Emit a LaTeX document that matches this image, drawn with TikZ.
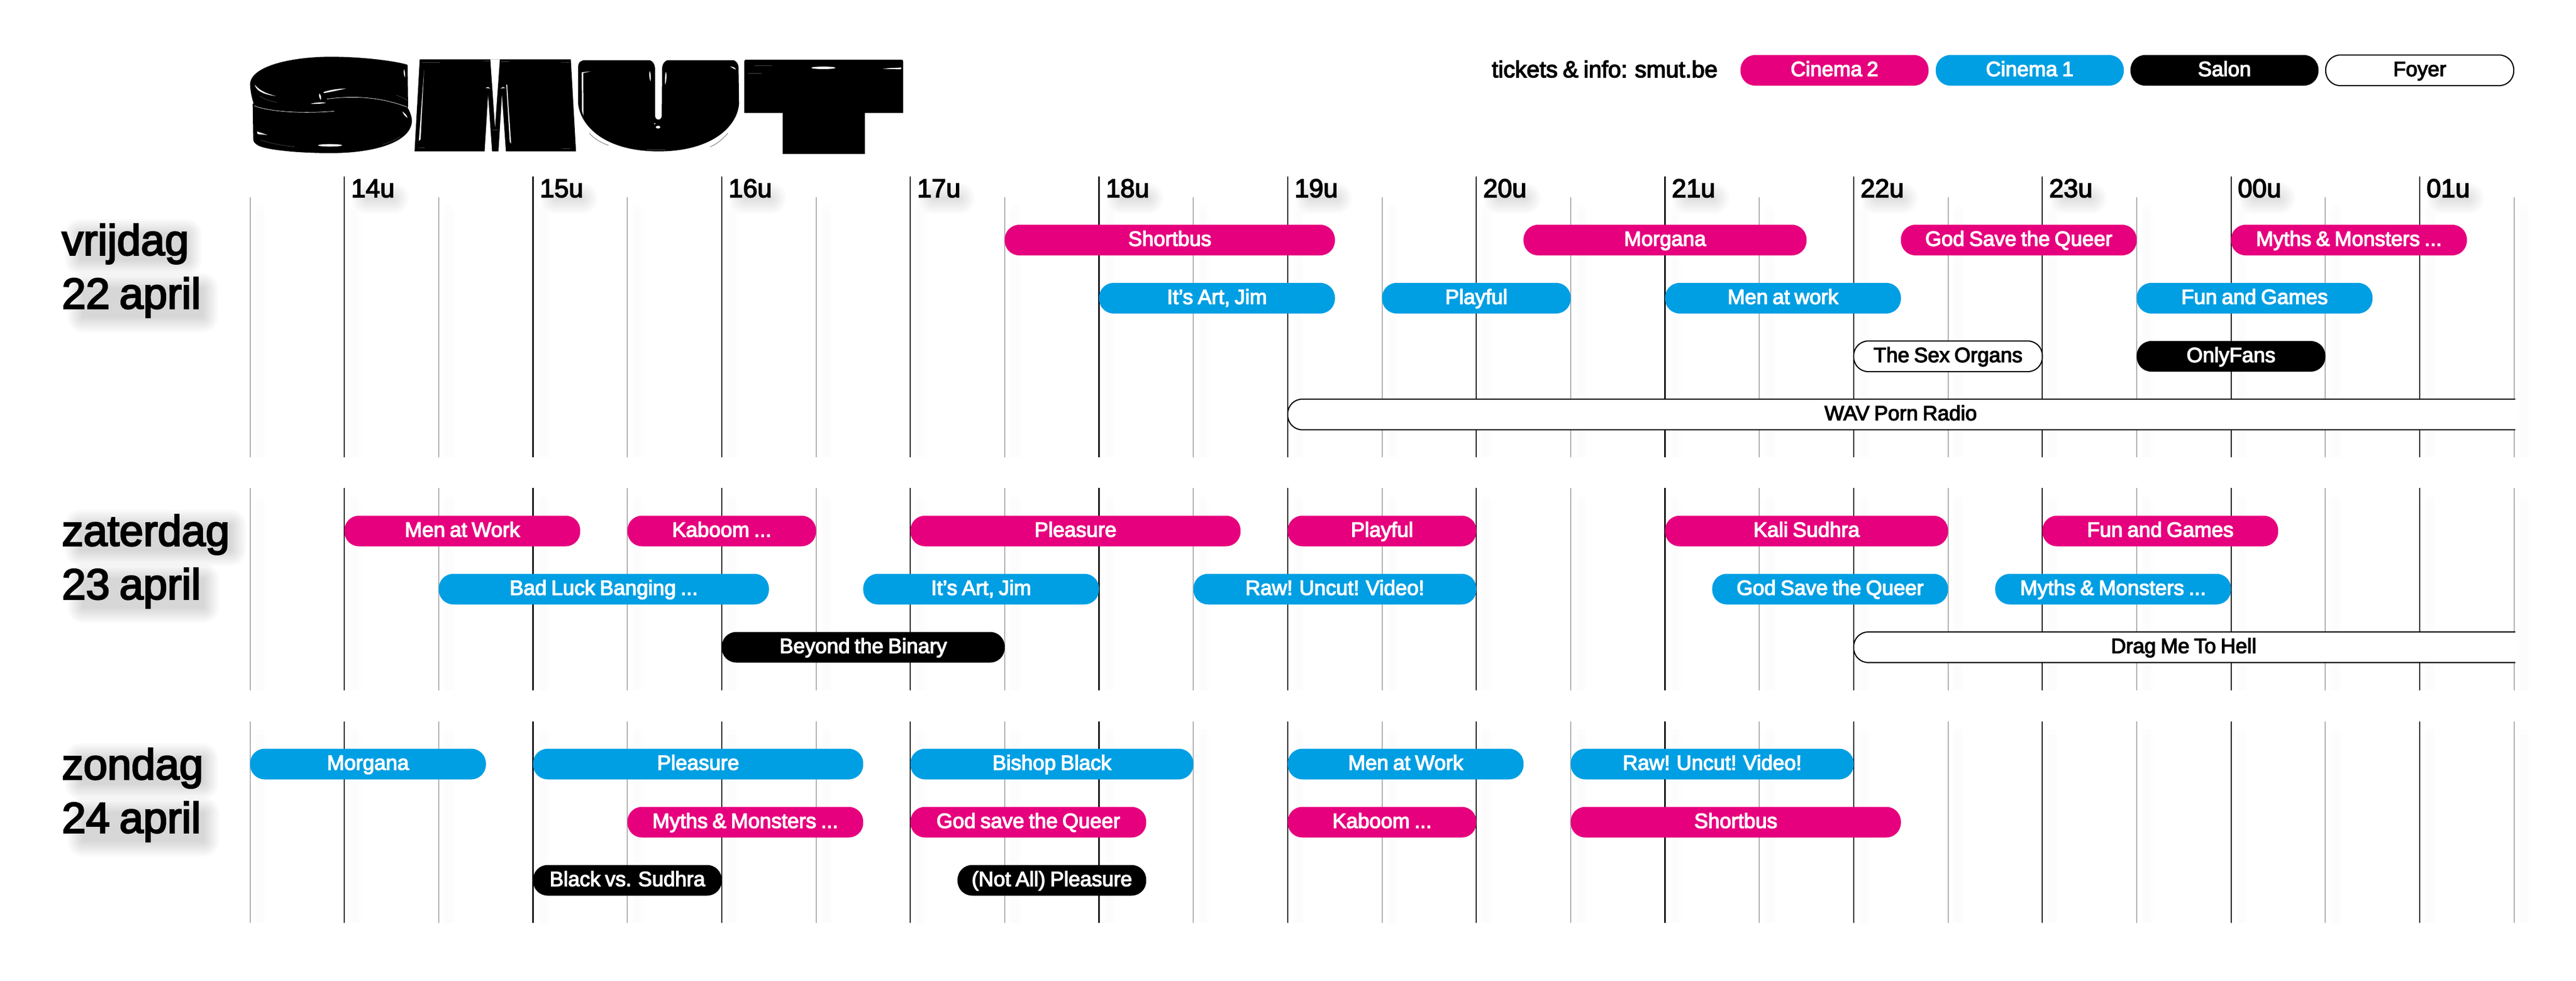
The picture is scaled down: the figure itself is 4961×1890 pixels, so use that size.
\documentclass[tikz,border=0pt]{standalone}
\usepackage{fontspec}
\usepackage{graphicx}
\setmainfont{Liberation Sans}
\newfontfamily\medfont{Liberation Sans}[FakeBold=3.5,WordSpace=0.8]
\newfontfamily\logofont{Liberation Sans Bold}
\definecolor{cmag}{HTML}{E6007E}
\definecolor{cblue}{HTML}{009FE3}
\definecolor{cgrid}{HTML}{ABABAB}
\tikzset{
  pillbase/.style={inner sep=0pt,outer sep=0pt,minimum height=59pt,rounded corners=28pt,line width=2.2pt,
    font=\medfont\fontsize{40}{40}\selectfont,text height=29pt,text depth=6.5pt},
  mag/.style={pillbase,fill=cmag,text=white},
  blu/.style={pillbase,fill=cblue,text=white},
  blk/.style={pillbase,fill=black,text=white},
  foy/.style={pillbase,fill=white,draw=black,text=black},
  daylab/.style={anchor=north west,inner sep=0pt,align=left,font=\medfont\fontsize{83}{103}\selectfont},
  hourlab/.style={anchor=base west,inner sep=0pt,font=\medfont\fontsize{50}{50}\selectfont},
  gl/.style={white,line width=.7pt,line cap=round},
  gr/.style={black!70!white,line width=.7pt,line cap=round},
}
\newcommand\hx[1]{481.6+(#1)*181.667}
\newcommand\pill[6]{\node[#2,minimum width={((#4)-(#3))*181.667pt}] (#1) at ({481.6+((#3)+(#4))/2*181.667},{#5+29.5}) {#6};}
\newcommand\lpill[5]{\node[#2,minimum width={(#4)-(#3)*1pt}] (#1) at ({((#3)+(#4))/2},135.5) {#5};}
\newcommand\openpill[4]{%
  \draw[fill=white,line width=2.2pt,rounded corners=28pt] (4844,#3) -- ({\hx{#2}},#3) -- ({\hx{#2}},#3+59) -- (4844,#3+59);
  \node[pillbase,text=black,minimum width=400pt] (#1) at ({(\hx{#2}+4841)/2},#3+29.5) {#4};}
\newcommand\softblob[5]{%
  \foreach \e in {-8,-4,...,20}{\pgfmathsetmacro\rr{max(\e+10,1)}%
    \fill[black,opacity=#5,rounded corners=\rr pt] ({#1-\e},{#2-\e}) rectangle ({#3+\e},{#4+\e});}}
\begin{document}
\begin{tikzpicture}[x=1pt,y=-1pt]
\useasboundingbox (0,0) rectangle (4961,1890);
\fill[white] (0,0) rectangle (4961,1890);

% grid
\foreach \tt in {0,...,24}{
  \pgfmathsetmacro\xx{481.6+\tt*181.667}
  \foreach \ya/\yb in {380/881,940/1330,1390/1778}{
    \fill[black,opacity=.007] (\xx+12,\ya+15) rectangle (\xx+27,\yb);
    \fill[black,opacity=.005] (\xx+6,\ya+25) rectangle (\xx+33,\yb);
  }
  \pgfmathparse{int(mod(\tt,2))}
  \ifnum\pgfmathresult=1
    \draw[black,line width=2.3pt] (\xx,340) -- (\xx,881);
    \draw[black,line width=2.3pt] (\xx,940) -- (\xx,1330);
    \draw[black,line width=2.3pt] (\xx,1390) -- (\xx,1778);
  \else
    \draw[cgrid,line width=1.9pt] (\xx,380) -- (\xx,881);
    \draw[cgrid,line width=1.9pt] (\xx,940) -- (\xx,1330);
    \draw[cgrid,line width=1.9pt] (\xx,1390) -- (\xx,1778);
  \fi
}

% hour labels
\foreach \tt/\lab in {1/14u,3/15u,5/16u,7/17u,9/18u,11/19u,13/20u,15/21u,17/22u,19/23u,21/00u,23/01u}{
  \pgfmathsetmacro\xx{481.6+\tt*181.667}
  \softblob{\xx+34}{372}{\xx+104}{392}{.016}
  \node[hourlab] (h\tt) at (\xx+13,380) {\lab};
}

% day labels
\softblob{145}{442}{368}{510}{.02}
\softblob{150}{546}{400}{620}{.02}
\softblob{145}{1002}{454}{1070}{.02}
\softblob{150}{1106}{402}{1180}{.02}
\softblob{145}{1452}{400}{1520}{.02}
\softblob{150}{1556}{402}{1630}{.02}
\node[daylab] (d1) at (119,431) {vrijdag\\22 april};
\node[daylab] (d2) at (119,991) {zaterdag\\23 april};
\node[daylab] (d3) at (119,1441) {zondag\\24 april};

% legend
\node[anchor=base east,inner sep=0pt,font=\medfont\fontsize{44.8}{45}\selectfont] (tick) at (3308,149) {tickets \& info: smut.be};
\lpill{l1}{mag}{3352}{3714}{Cinema 2}
\lpill{l2}{blu}{3728}{4090}{Cinema 1}
\lpill{l3}{blk}{4103}{4465}{Salon}
\lpill{l4}{foy}{4479}{4841}{Foyer}

% friday
\pill{f1}{mag}{8}{11.5}{433}{Shortbus}
\pill{f2}{mag}{13.5}{16.5}{433}{Morgana}
\pill{f3}{mag}{17.5}{20}{433}{God Save the Queer}
\pill{f4}{mag}{21}{23.5}{433}{Myths \& Monsters ...}
\pill{f5}{blu}{9}{11.5}{545}{It’s Art, Jim}
\pill{f6}{blu}{12}{14}{545}{Playful}
\pill{f7}{blu}{15}{17.5}{545}{Men at work}
\pill{f8}{blu}{20}{22.5}{545}{Fun and Games}
\pill{f9}{foy}{17}{19}{657}{The Sex Organs}
\pill{f10}{blk}{20}{22}{657}{OnlyFans}
\openpill{f11}{11}{769}{WAV Porn Radio}

% saturday
\pill{s1}{mag}{1}{3.5}{993.5}{Men at Work}
\pill{s2}{mag}{4}{6}{993.5}{Kaboom ...}
\pill{s3}{mag}{7}{10.5}{993.5}{Pleasure}
\pill{s4}{mag}{11}{13}{993.5}{Playful}
\pill{s5}{mag}{15}{18}{993.5}{Kali Sudhra}
\pill{s6}{mag}{19}{21.5}{993.5}{Fun and Games}
\pill{s7}{blu}{2}{5.5}{1105.5}{Bad Luck Banging ...}
\pill{s8}{blu}{6.5}{9}{1105.5}{It’s Art, Jim}
\pill{s9}{blu}{10}{13}{1105.5}{Raw! Uncut! Video!}
\pill{s10}{blu}{15.5}{18}{1105.5}{God Save the Queer}
\pill{s11}{blu}{18.5}{21}{1105.5}{Myths \& Monsters ...}
\pill{s12}{blk}{5}{8}{1217.5}{Beyond the Binary}
\openpill{s13}{17}{1217.5}{Drag Me To Hell}

% sunday
\pill{z1}{blu}{0}{2.5}{1442.5}{Morgana}
\pill{z2}{blu}{3}{6.5}{1442.5}{Pleasure}
\pill{z3}{blu}{7}{10}{1442.5}{Bishop Black}
\pill{z4}{blu}{11}{13.5}{1442.5}{Men at Work}
\pill{z5}{blu}{14}{17}{1442.5}{Raw! Uncut! Video!}
\pill{z6}{mag}{4}{6.5}{1554.5}{Myths \& Monsters ...}
\pill{z7}{mag}{7}{9.5}{1554.5}{God save the Queer}
\pill{z8}{mag}{11}{13}{1554.5}{Kaboom ...}
\pill{z9}{mag}{14}{17.5}{1554.5}{Shortbus}
\pill{z10}{blk}{3}{5}{1666.5}{Black vs. Sudhra}
\pill{z11}{blk}{7.5}{9.5}{1666.5}{(Not All) Pleasure}

% logo silhouettes
\begin{scope}[shift={(470,100)},x=.3333pt,y=-.3333pt]
\fill (945,75) -- (948,315) -- (945,322) .. controls (962,350) and (970,380) .. (970,400) .. controls (965,520) and (760,585) .. (500,585)
  .. controls (300,585) and (120,565) .. (80,540) .. controls (65,530) and (55,525) .. (53,505) -- (50,300) -- (55,298)
  .. controls (40,250) and (35,210) .. (35,185) .. controls (40,80) and (280,28) .. (500,28) .. controls (680,28) and (850,50) .. (930,70) -- cycle;
\end{scope}
\begin{scope}[shift={(790,100)},x=.3333pt,y=-.3333pt]
\fill (55,43) -- (928,43) -- (958,575) -- (25,575) -- cycle;
\end{scope}
\begin{scope}[shift={(1105,100)},x=.3333pt,y=-.3333pt]
\fill (25,90) .. controls (25,60) and (40,48) .. (65,48) -- (925,48) .. controls (940,55) and (952,70) .. (952,90) -- (955,300)
  .. controls (945,430) and (800,575) .. (490,575) .. controls (180,575) and (40,430) .. (25,300) -- cycle;
\end{scope}
\begin{scope}[shift={(1420,100)},x=.3333pt,y=-.3333pt]
\fill (40,55) .. controls (40,48) and (45,45) .. (50,45) -- (948,45) .. controls (955,45) and (958,48) .. (958,55) -- (958,353) -- (737,353) -- (737,590) -- (262,590) -- (262,353) -- (40,353) -- cycle;
\end{scope}

% logo text
\node[anchor=base west,inner sep=0pt,font=\logofont] (logo) at (495,275) {\resizebox{280pt}{140pt}{S}\hspace{40pt}\resizebox{270pt}{140pt}{M}\hspace{48pt}\resizebox{270pt}{140pt}{U}\hspace{42pt}\resizebox{280pt}{140pt}{T}};

% logo white details
\begin{scope}[shift={(470,100)},x=.3333pt,y=-.3333pt]
\fill[white] (62,190) .. controls (90,225) and (140,245) .. (185,255) .. controls (130,250) and (70,230) .. (62,190) -- cycle;
\fill[white] (460,232) .. controls (500,218) and (550,212) .. (590,212) .. controls (540,222) and (500,232) .. (460,238) -- cycle;
\fill[white] (435,240) .. controls (445,250) and (448,265) .. (443,278) .. controls (436,265) and (430,255) .. (435,240) -- cycle;
\fill[white] (385,300) .. controls (410,292) and (450,290) .. (475,294) .. controls (450,300) and (410,302) .. (385,300) -- cycle;
\fill[white] (497,540) ellipse [x radius=70,y radius=7];
\fill[white] (75,460) -- (78,475) -- (135,480) -- cycle;
\fill[white] (925,100) .. controls (930,115) and (932,130) .. (930,148) .. controls (922,130) and (920,115) .. (925,100) -- cycle;
\fill[white] (915,345) .. controls (930,355) and (940,365) .. (945,382) .. controls (930,372) and (920,360) .. (915,345) -- cycle;
\draw[gl] (60,312) .. controls (130,340) and (300,360) .. (520,343);
\draw[gl] (480,272) .. controls (650,250) and (800,265) .. (940,318);
\draw[gr] (90,255) .. controls (120,275) and (150,285) .. (190,292);
\draw[gr] (880,250) .. controls (900,258) and (925,268) .. (945,280);
\draw[gr] (95,510) .. controls (140,525) and (210,540) .. (290,548);
\draw[gr] (800,535) .. controls (840,525) and (870,510) .. (900,490);
\end{scope}
\begin{scope}[shift={(790,100)},x=.3333pt,y=-.3333pt]
\fill[white] (463,43) -- (518,43) -- (490,435) -- cycle;
\fill[white] (450,250) -- (430,578) -- (473,578) -- cycle;
\fill[white] (530,250) -- (510,578) -- (553,578) -- cycle;
\fill[white] (80,105) -- (50,515) -- (60,505) -- cycle;
\fill[white] (555,188) -- (560,190) -- (583,530) -- (575,520) -- cycle;
\fill[white] (435,208) -- (450,203) -- (462,212) -- cycle;
\fill[white] (522,212) -- (535,203) -- (550,208) -- cycle;
\draw[gr] (70,60) -- (170,60);
\draw[gr] (420,54) -- (458,52);
\draw[gr] (525,54) -- (570,54);
\draw[gr] (870,60) -- (920,62);
\draw[gr] (45,555) -- (85,553);
\draw[gr] (880,560) -- (925,560);
\draw[gr] (478,450) -- (505,450);
\end{scope}
\begin{scope}[shift={(1105,100)},x=.3333pt,y=-.3333pt]
\fill[white] (470,100) .. controls (470,70) and (455,48) .. (430,46) -- (550,46) .. controls (525,48) and (510,70) .. (510,100) -- (508,370) .. controls (505,398) and (473,398) .. (470,370) -- cycle;
\fill[white] (46,118) -- (100,112) -- (55,122) -- (56,370) -- (47,340) -- cycle;
\fill[white] (903,85) .. controls (920,85) and (932,90) .. (937,102) .. controls (925,98) and (915,92) .. (903,85) -- cycle;
\fill[white] (438,110) .. controls (446,125) and (448,150) .. (443,170) .. controls (436,150) and (434,130) .. (438,110) -- cycle;
\fill[white] (532,115) .. controls (540,135) and (535,170) .. (528,190) .. controls (526,165) and (526,135) .. (532,115) -- cycle;
\fill[white] (487,435) ellipse [x radius=13,y radius=8];
\fill[white] (468,415) circle [radius=4];
\draw[gr] (90,470) .. controls (120,505) and (160,525) .. (200,540);
\draw[gr] (420,566) -- (530,566);
\draw[gr] (790,548) .. controls (830,530) and (860,505) .. (890,470);
\end{scope}
\begin{scope}[shift={(1420,100)},x=.3333pt,y=-.3333pt]
\fill[white] (497,92) ellipse [x radius=70,y radius=7];
\fill[white] (840,97) .. controls (880,93) and (920,92) .. (948,91) -- (945,100) .. controls (910,100) and (870,99) .. (840,97) -- cycle;
\draw[gr] (100,78) -- (200,78);
\draw[gr] (62,123) -- (140,123);
\end{scope}
\end{tikzpicture}
\end{document}
